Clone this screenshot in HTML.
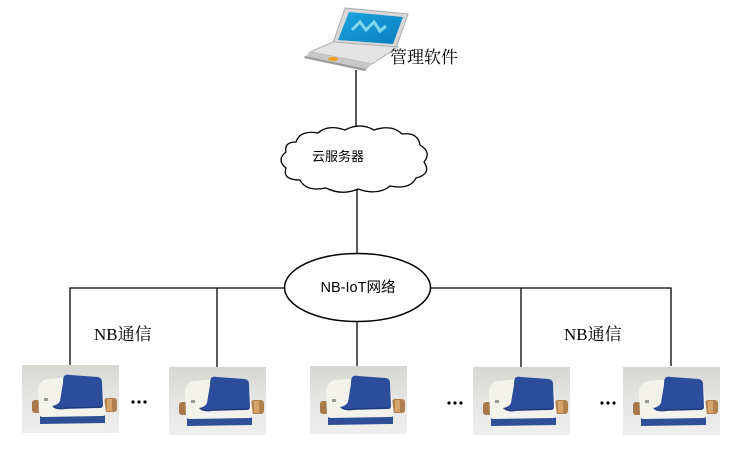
<!DOCTYPE html>
<html><head><meta charset="utf-8"><style>
html,body{margin:0;padding:0;background:#fff;}
svg{display:block;}
</style></head><body>
<svg width="741" height="451" viewBox="0 0 741 451" xmlns="http://www.w3.org/2000/svg">
<defs>
<linearGradient id="bg" x1="0" y1="0" x2="0" y2="1"><stop offset="0" stop-color="#d6d7d1"/><stop offset="0.45" stop-color="#e4e4e2"/><stop offset="1" stop-color="#eeeef0"/></linearGradient>
<linearGradient id="scr" x1="0" y1="0" x2="1" y2="1"><stop offset="0" stop-color="#1aa3dc"/><stop offset="1" stop-color="#0a7fc0"/></linearGradient>
<g id="meter">
<rect x="0" y="0" width="97" height="68" fill="url(#bg)"/>
<rect x="10" y="35" width="9" height="13" rx="3" fill="#a8794a"/>
<rect x="82" y="33" width="13" height="14" rx="3" fill="#b0814f"/>
<rect x="85" y="34" width="5" height="12" fill="#d6a46a"/>
<path d="M18 50 L83 49 L83 60 Q83 63 79 63 L22 63 Q18 63 18 60 Z" fill="#f0efe9"/>
<path d="M18 50 L83 49 L83 58 L18 59 Z" fill="#2f4f98"/>
<path d="M16 24 Q17 15 26 14 L46 12 L80 16 L84 48 Q84 51 80 51 L21 52 Q17 52 17 48 Z" fill="#f3f2eb"/>
<path d="M42 11 Q44 9 48 10 L76 12 Q80 13 80 17 L81 40 Q81 43 77 43 L40 44 Q33 45 30 41 Q36 40 38 36 L41 18 Q41 13 42 11 Z" fill="#2c4d9c"/>
<path d="M32 42 Q38 45 44 43 L80 42" stroke="#1e3a7a" stroke-width="1.2" fill="none"/>
<rect x="22" y="33" width="4" height="3" fill="#999"/>
</g>
</defs>
<g stroke="#000" stroke-width="1.3" fill="none">
<line x1="356" y1="70" x2="356" y2="134"/>
<line x1="357" y1="188" x2="357" y2="254"/>
<line x1="357" y1="321" x2="357" y2="366"/>
<polyline points="70,366 70,288 671,288 671,366"/>
<line x1="217" y1="288" x2="217" y2="367"/>
<line x1="521" y1="288" x2="521" y2="367"/>
</g>
<ellipse cx="357.5" cy="287.5" rx="73" ry="34" fill="#fff" stroke="#000" stroke-width="1.5"/>
<text x="358" y="292" font-family="Liberation Sans, Noto Sans CJK SC, sans-serif" font-size="14.5" text-anchor="middle" fill="#000">NB-IoT网络</text>
<path d="M296 142 Q300 130 318 133 Q328 124 345 130 Q360 122 374 130 Q392 124 402 134 Q418 132 420 145 Q432 152 424 162 Q432 174 416 178 Q410 190 390 186 Q378 196 358 189 Q342 196 326 188 Q306 192 300 180 Q282 180 286 168 Q276 160 286 152 Q284 142 296 142 Z" fill="#fff" stroke="#000" stroke-width="1.3"/>
<text x="312" y="161" font-family="Liberation Sans, Noto Sans CJK SC, sans-serif" font-size="13" fill="#000">云服务器</text>
<g>
<path d="M345 8 L408 14 L396 48 L333 43 Z" fill="#d8d8d8" stroke="#aaa" stroke-width="1"/>
<path d="M349 12 L403 17 L393 44 L338 40 Z" fill="url(#scr)"/>
<polyline points="352,30 360,22 366,30 374,22 380,31 386,26" stroke="#7fd8f0" stroke-width="3" fill="none"/>
<path d="M310 52 L333 42 L398 47 L372 64 Z" fill="#e4e4e4" stroke="#b0b0b0" stroke-width="1"/>
<path d="M304 58 L310 52 L372 64 L365 71 Z" fill="#c8c8c8"/>
<path d="M304 58 L365 71 L366 69 L305 56 Z" fill="#9a9a9a"/>
<ellipse cx="333" cy="59" rx="5" ry="2" fill="#f0a020"/>
</g>
<text x="390" y="63" font-family="Liberation Serif, Noto Serif CJK SC, serif" font-size="17" fill="#000">管理软件</text>
<text x="94" y="340" font-family="Liberation Serif, Noto Serif CJK SC, serif" font-size="17" fill="#000">NB通信</text>
<text x="564" y="340" font-family="Liberation Serif, Noto Serif CJK SC, serif" font-size="17" fill="#000">NB通信</text>
<use href="#meter" x="22" y="365"/>
<use href="#meter" x="169" y="367"/>
<use href="#meter" x="310" y="366"/>
<use href="#meter" x="473" y="367"/>
<use href="#meter" x="623" y="367"/>
<g fill="#000">
<circle cx="133" cy="402" r="1.6"/><circle cx="139" cy="402" r="1.6"/><circle cx="145" cy="402" r="1.6"/>
<circle cx="449" cy="403" r="1.6"/><circle cx="455" cy="403" r="1.6"/><circle cx="461" cy="403" r="1.6"/>
<circle cx="602" cy="403" r="1.6"/><circle cx="608" cy="403" r="1.6"/><circle cx="614" cy="403" r="1.6"/>
</g>
</svg>
</body></html>
